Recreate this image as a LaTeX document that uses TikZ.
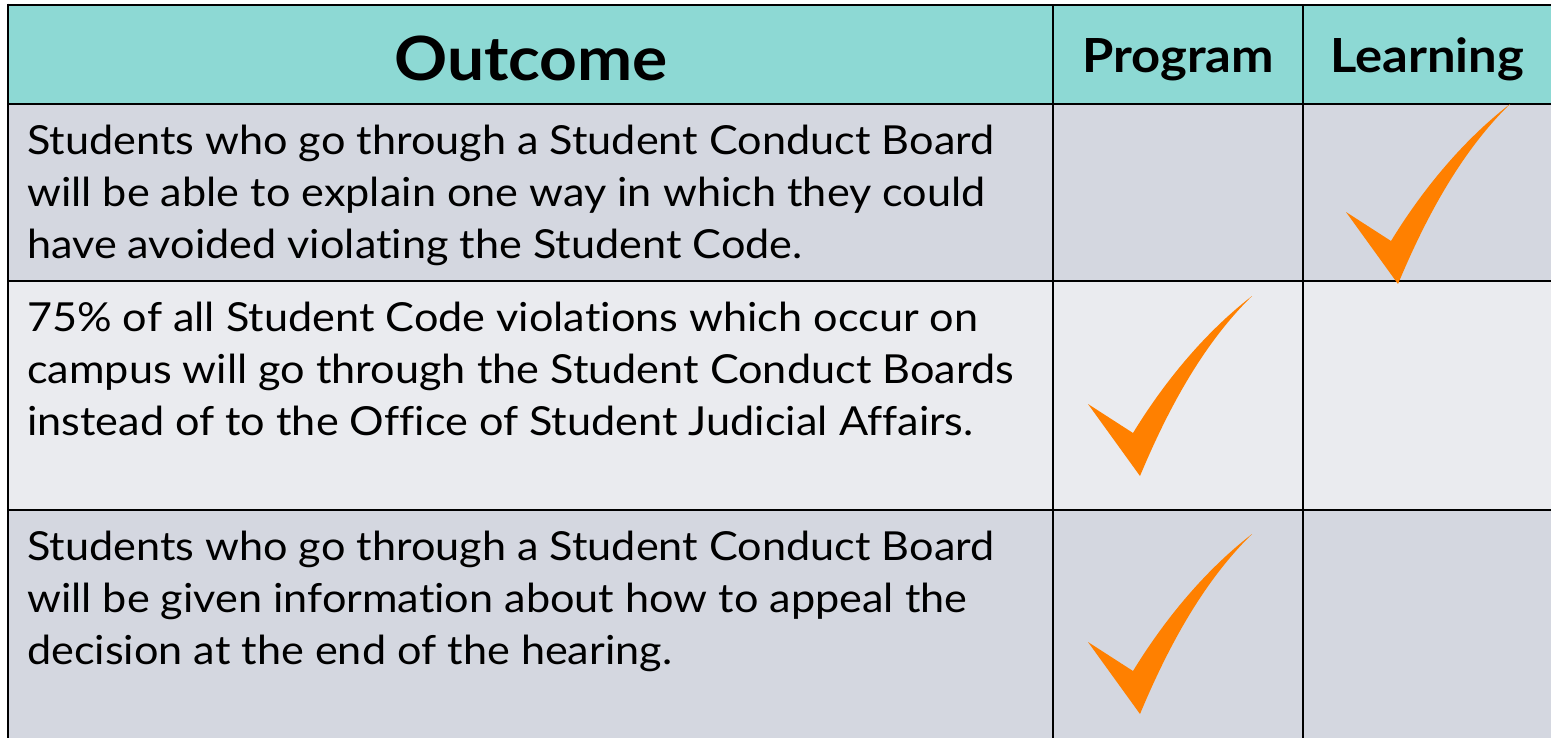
\documentclass[tikz,border=0pt]{standalone}
\usepackage{fontspec}
\setmainfont[Ligatures=NoCommon, FakeStretch=1.08]{Lato}
\definecolor{hdrc}{HTML}{8DD9D4}
\definecolor{rowa}{HTML}{D4D7E0}
\definecolor{rowb}{HTML}{EAEBEF}
\definecolor{chkc}{HTML}{FF8000}
\begin{document}
\begin{tikzpicture}[x=1pt,y=-1pt,
  gridline/.style={line width=2.6pt, black},
  bodytext/.style={anchor=base west, inner sep=0pt, font=\fontsize{40}{52}\selectfont},
  headtext/.style={anchor=base, inner sep=0pt, font=\bfseries\fontsize{47}{52}\selectfont},
  bighead/.style={anchor=base, inner sep=0pt, font=\bfseries\fontsize{61}{70}\selectfont},
  tick/.pic={\fill[chkc] (0,0) -- (52,72) .. controls (80,5) and (115,-60) .. (164,-108)
     .. controls (115,-70) and (75,-20) .. (45,29) -- cycle;}]
\useasboundingbox (0,0) rectangle (1551,737);
\fill[white] (0,0) rectangle (1551,737);
% backgrounds
\fill[hdrc] (8,5) rectangle (1560,104);
\fill[rowa] (8,104) rectangle (1560,281);
\fill[rowb] (8,281) rectangle (1560,510);
\fill[rowa] (8,510) rectangle (1560,745);
% header text
\node[bighead] (hout) at (531,80) {Outcome};
\node[headtext] (hprog) at (1178,72) {Program};
\node[headtext] (hlearn) at (1427,72) {Learning};
% row 1
\node[bodytext] (r1a) at (27,154) {Students who go through a Student Conduct Board};
\node[bodytext] (r1b) at (27,206) {will be able to explain one way in which they could};
\node[bodytext] (r1c) at (27,258) {have avoided violating the Student Code.};
% row 2
\node[bodytext] (r2a) at (27,331) {75\% of all Student Code violations which occur on};
\node[bodytext] (r2b) at (27,383) {campus will go through the Student Conduct Boards};
\node[bodytext] (r2c) at (27,435) {instead of to the Office of Student Judicial Affairs.};
% row 3
\node[bodytext] (r3a) at (27,560) {Students who go through a Student Conduct Board};
\node[bodytext] (r3b) at (27,612) {will be given information about how to appeal the};
\node[bodytext] (r3c) at (27,664) {decision at the end of the hearing.};
% grid
\draw[gridline] (8,5) -- (1560,5);
\draw[gridline] (8,104) -- (1560,104);
\draw[gridline] (8,281) -- (1560,281);
\draw[gridline] (8,510) -- (1560,510);
\draw[gridline] (8,3.7) -- (8,745);
\draw[gridline] (1053,5) -- (1053,745);
\draw[gridline] (1303,5) -- (1303,745);
% ticks
\pic at (1346,212) {tick};
\pic at (1088,404) {tick};
\pic at (1088,642) {tick};
\end{tikzpicture}
\end{document}
